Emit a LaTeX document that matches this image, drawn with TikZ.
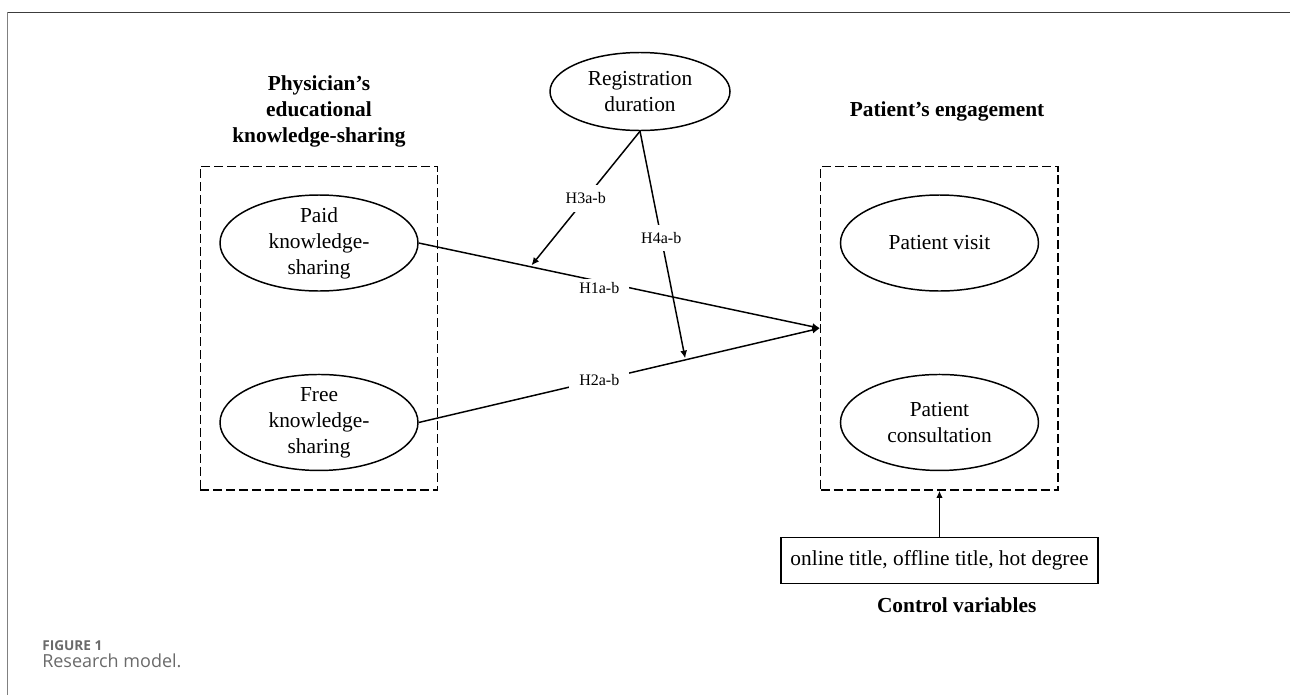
\documentclass[tikz,border=0pt]{standalone}
\usepackage{fontspec}
\setmainfont{Liberation Serif}
\newfontfamily\captionfont{Open Sans}
\usetikzlibrary{positioning,calc,fit,shapes.geometric,arrows.meta}

\definecolor{framedark}{HTML}{3C3C3C}
\definecolor{framelight}{HTML}{808080}
\definecolor{captiongray}{HTML}{6A6A6A}

\tikzset{
  construct/.style={draw, ellipse, line width=1.05pt, minimum width=4.95cm, minimum height=2.4cm,
    inner sep=0pt, inner ysep=-2pt, align=center, font=\fontsize{15.2}{18.5}\selectfont},
  group/.style={draw, dash pattern=on 6.4pt off 2.8pt, line width=1.05pt, inner sep=0.475cm},
  heading/.style={align=center, inner sep=0pt, font=\fontsize{15.2}{18.5}\selectfont\bfseries},
  hyp/.style={fill=white, inner xsep=0.25cm, inner ysep=2pt, font=\fontsize{11.4}{13}\selectfont},
  link/.style={-{Latex[length=5.5pt,width=5pt]}, line width=1.05pt},
  ctrlbox/.style={draw, line width=1.05pt, minimum width=7.925cm, minimum height=1.15cm,
    font=\fontsize{15.2}{18.5}\selectfont}
}

\begin{document}
\begin{tikzpicture}
      \useasboundingbox (0,0) rectangle (32.25,-17.375);

      % frame
      \draw[framedark, line width=1.1pt] (0.175,-0.3125) -- (32.25,-0.3125);
      \draw[framelight, line width=1.1pt] (0.1875,-0.3) -- (0.1875,-17.375);

      % nodes

      %knowledge-sharing
      \node[construct] (paid) at (7.975,-6.075) {Paid\\knowledge-\\sharing};
      \node[construct, below=2.05cm of paid] (free) {Free\\knowledge-\\sharing};

      %moderator
      \node[construct, minimum width=4.5cm, minimum height=1.95cm] (reg) at (16.0,-2.2875) {Registration\\duration};

      %engagement
      \node[construct, right=10.525cm of paid] (visit) {Patient visit};
      \node[construct, below=2.05cm of visit] (consult) {Patient\\consultation};

      % groups
      \coordinate (phys_top) at ([yshift=0.225cm] paid.north);
      \node[group, fit=(phys_top)(paid)(free)] (physbox) {};
      \coordinate (eng_top) at ([yshift=0.225cm] visit.north);
      \node[group, fit=(eng_top)(visit)(consult)] (engbox) {};

      % titles
      \node[heading, above=0.46cm of physbox] (phys_title) {Physician’s\\educational\\knowledge-sharing};
      \node[heading, above=1.11cm of engbox, xshift=0.19cm] (eng_title) {Patient’s engagement};

      %controls
      \node[ctrlbox, below=1.15cm of engbox] (ctrl) {online title, offline title, hot degree};
      \node[heading, below=0.325cm of ctrl, xshift=0.43cm] (ctrl_title) {Control variables};

      % edges
      \draw[link] (paid.east) -- node[hyp, pos=0.45, yshift=-0.16cm] (h1) {H1a-b} (engbox.west);
      \draw[link] (free.east) -- node[hyp, pos=0.45] (h2) {H2a-b} (engbox.west);

      \coordinate (h3_end) at ($(paid.east)!0.281!(engbox.west)+(0,0.04cm)$);
      \coordinate (h4_end) at ($(free.east)!0.664!(engbox.west)+(0,0.04cm)$);
      \draw[link] (reg.south) -- node[hyp, pos=0.5, inner xsep=1pt, inner ysep=0.2cm] (h3) {H3a-b} (h3_end);
      \draw[link] (reg.south) -- node[hyp, pos=0.47, inner xsep=1pt, inner ysep=0.18cm] (h4) {H4a-b} (h4_end);

      \draw[-{Latex[length=5pt,width=4.5pt]}, line width=0.6pt] (ctrl.north) -- (engbox.south);

      % caption
      \node[anchor=base west, inner sep=0pt, text=captiongray, font=\captionfont\bfseries\fontsize{9.7}{11}\selectfont] (fig_no) at (1.05,-16.25) {FIGURE 1};
      \node[anchor=base west, inner sep=0pt, text=captiongray, font=\captionfont\fontsize{12.8}{15}\selectfont] (fig_text) at (1.05,-16.675) {Research model.};

\end{tikzpicture}
\end{document}
